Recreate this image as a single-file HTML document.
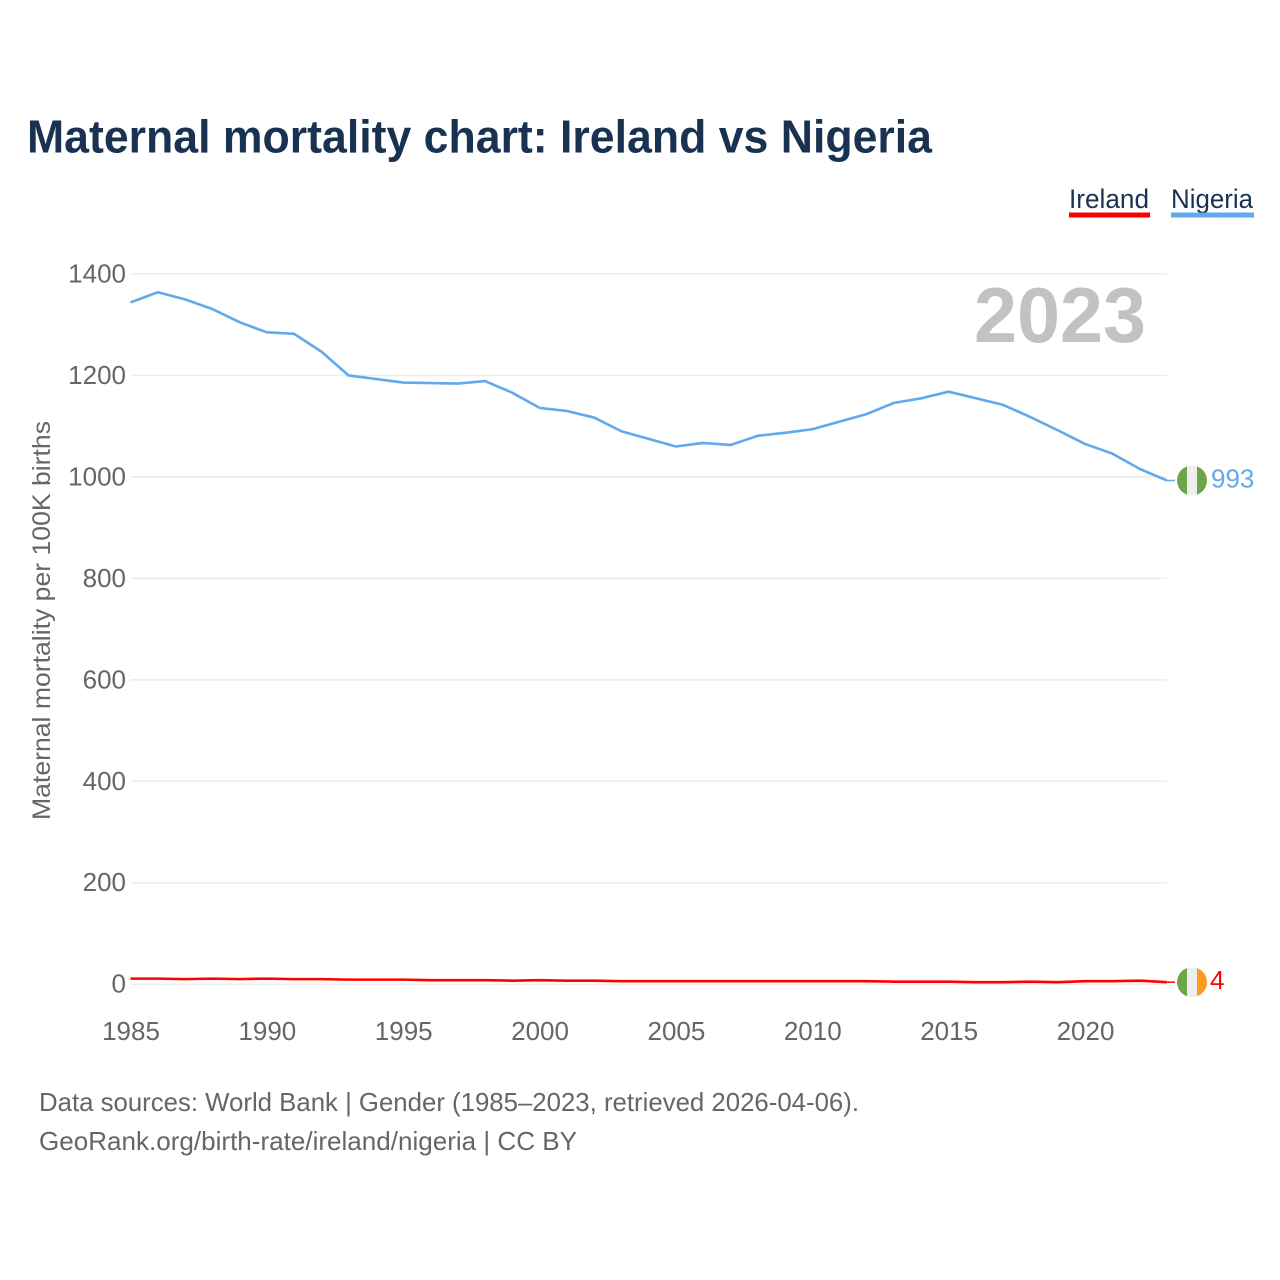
<!DOCTYPE html>
<html lang="en">
<head>
<meta charset="utf-8">
<title>Maternal mortality chart: Ireland vs Nigeria</title>
<style>
html,body{margin:0;padding:0;background:#fff;width:1280px;height:1280px;overflow:hidden}
svg{display:block}
text{font-family:"Liberation Sans",sans-serif}
</style>
</head>
<body>
<svg id="chart" xmlns="http://www.w3.org/2000/svg" width="1280" height="1280" viewBox="0 0 1280 1280">
  <rect x="0" y="0" width="1280" height="1280" fill="#fff"/>
  <text x="27" y="152.5" font-size="46" font-weight="700" fill="#1a3251" textLength="905" lengthAdjust="spacingAndGlyphs">Maternal mortality chart: Ireland vs Nigeria</text>

  <g>
    <g>
      <text x="1069" y="208" font-size="27" fill="#1a3251" textLength="80" lengthAdjust="spacingAndGlyphs">Ireland</text>
      <rect x="1069" y="212.5" width="81" height="5" fill="#ff0000"/>
    </g>
    <g>
      <text x="1171" y="208" font-size="27" fill="#1a3251" textLength="82" lengthAdjust="spacingAndGlyphs">Nigeria</text>
      <rect x="1171" y="212.5" width="83" height="5" fill="#62a8ec"/>
    </g>
  </g>

  <g id="grid"></g>
  <g id="yticks"></g>
  <g id="xticks"></g>

  <text transform="translate(50,820) rotate(-90)" x="0" y="0" font-size="25" fill="#666" textLength="399" lengthAdjust="spacingAndGlyphs">Maternal mortality per 100K births</text>

  <text id="year-label" x="1146" y="342" text-anchor="end" font-size="78" font-weight="700" fill="#c2c2c2" textLength="172" lengthAdjust="spacingAndGlyphs">2023</text>

  <g id="series"></g>

  <defs>
    <clipPath id="flag-clip-nigeria"><circle cx="1192" id="clip-nigeria" r="15"/></clipPath>
    <clipPath id="flag-clip-ireland"><circle cx="1192" id="clip-ireland" r="15"/></clipPath>
  </defs>
  <g id="flags"></g>
  <g id="labels"></g>

  <g>
    <text x="39" y="1111" font-size="26" fill="#666" textLength="820" lengthAdjust="spacingAndGlyphs">Data sources: World Bank | Gender (1985–2023, retrieved 2026-04-06).</text>
    <text x="39" y="1150" font-size="26" fill="#666" textLength="538" lengthAdjust="spacingAndGlyphs">GeoRank.org/birth-rate/ireland/nigeria | CC BY</text>
  </g>
</svg>
<script>
const years = [1985,1986,1987,1988,1989,1990,1991,1992,1993,1994,1995,1996,1997,1998,1999,2000,2001,2002,2003,2004,2005,2006,2007,2008,2009,2010,2011,2012,2013,2014,2015,2016,2017,2018,2019,2020,2021,2022,2023];
const nigeriaValues = [1344,1364,1350,1331,1305,1285,1282,1247,1200,1193,1186,1185,1184,1189,1166,1136,1130,1117,1090,1075,1060,1067,1063,1081,1087,1094,1109,1124,1146,1155,1168,1155,1142,1118,1092,1065,1046,1016,993];
const irelandValues = [11,11,10,11,10,11,10,10,9,9,9,8,8,8,7,8,7,7,6,6,6,6,6,6,6,6,6,6,5,5,5,4,4,5,4,6,6,7,4];
const yTickLabels = [0,200,400,600,800,1000,1200,1400];
const xTickLabels = [1985,1990,1995,2000,2005,2010,2015,2020];

const SVGNS = 'http://www.w3.org/2000/svg';
function xScale(year){ return 130.5 + (year - 1985) * (1166.8 - 130.5) / (2023 - 1985); }
function yScale(value){ return 984.2 - value * (984.2 - 274) / 1400; }
function make(tag, attrs, parent){
  const el = document.createElementNS(SVGNS, tag);
  for (const k in attrs) el.setAttribute(k, attrs[k]);
  parent.appendChild(el);
  return el;
}

const gridGroup = document.getElementById('grid');
const yTickGroup = document.getElementById('yticks');
yTickLabels.forEach(function(v){
  const line = make('line', {x1:130.5, x2:1166.8, y1:yScale(v), y2:yScale(v), stroke:'#ececec', 'stroke-width':1.5}, gridGroup);
  
  
  const t = make('text', {x:126, y:yScale(v) + 8.5, 'text-anchor':'end', 'font-size':26, fill:'#666'}, yTickGroup);
  
  
  t.textContent = String(v);
});

const xTickGroup = document.getElementById('xticks');
xTickLabels.forEach(function(y){
  const t = make('text', {x:xScale(y) + 0.5, y:1040, 'text-anchor':'middle', 'font-size':26, fill:'#666'}, xTickGroup);
  
  
  t.textContent = String(y);
});

function pathFor(values){
  return values.map(function(v, i){
    return (i ? 'L' : 'M') + xScale(years[i]).toFixed(2) + ' ' + yScale(v).toFixed(2);
  }).join(' ');
}

const seriesGroup = document.getElementById('series');
const nigeriaLine = make('path', {d:pathFor(nigeriaValues), fill:'none', stroke:'#62a8ec', 'stroke-width':2.6, 'stroke-linejoin':'round'}, seriesGroup);


const irelandLine = make('path', {d:pathFor(irelandValues), fill:'none', stroke:'#ff0000', 'stroke-width':2.6, 'stroke-linejoin':'round'}, seriesGroup);



const lastX = xScale(years[years.length - 1]);
const nigeriaLast = nigeriaValues[nigeriaValues.length - 1];
const irelandLast = irelandValues[irelandValues.length - 1];
const nigeriaY = yScale(nigeriaLast);
const irelandY = yScale(irelandLast);

const nigeriaLeader = make('line', {x1:lastX, x2:1175, y1:nigeriaY, y2:nigeriaY, stroke:'#62a8ec', 'stroke-width':1.5}, seriesGroup);


const irelandLeader = make('line', {x1:lastX, x2:1175, y1:irelandY, y2:irelandY, stroke:'#ff0000', 'stroke-width':1.5}, seriesGroup);



document.getElementById('clip-nigeria').setAttribute('cy', nigeriaY);
document.getElementById('clip-ireland').setAttribute('cy', irelandY);

const flagGroup = document.getElementById('flags');
function stripe(parent, x, w, cy, fill, clip){
  make('rect', {x:x, y:cy - 15, width:w, height:30, fill:fill, 'clip-path':'url(#' + clip + ')'}, parent);
}
const nigeriaFlag = make('g', {}, flagGroup);


stripe(nigeriaFlag, 1177, 10, nigeriaY, '#6fa54a', 'flag-clip-nigeria');
stripe(nigeriaFlag, 1187, 10, nigeriaY, '#eeeeee', 'flag-clip-nigeria');
stripe(nigeriaFlag, 1197, 10, nigeriaY, '#6fa54a', 'flag-clip-nigeria');

const irelandFlag = make('g', {}, flagGroup);


stripe(irelandFlag, 1177, 10, irelandY, '#6fa54a', 'flag-clip-ireland');
stripe(irelandFlag, 1187, 10, irelandY, '#eeeeee', 'flag-clip-ireland');
stripe(irelandFlag, 1197, 10, irelandY, '#ff9a1e', 'flag-clip-ireland');

const labelGroup = document.getElementById('labels');
const nigeriaLabel = make('text', {x:1211, y:nigeriaY + 7, 'font-size':26, fill:'#62a8ec'}, labelGroup);


nigeriaLabel.textContent = String(nigeriaLast);
const irelandLabel = make('text', {x:1210, y:irelandY + 7, 'font-size':26, fill:'#ff0000'}, labelGroup);


irelandLabel.textContent = String(irelandLast);
</script>
</body>
</html>
